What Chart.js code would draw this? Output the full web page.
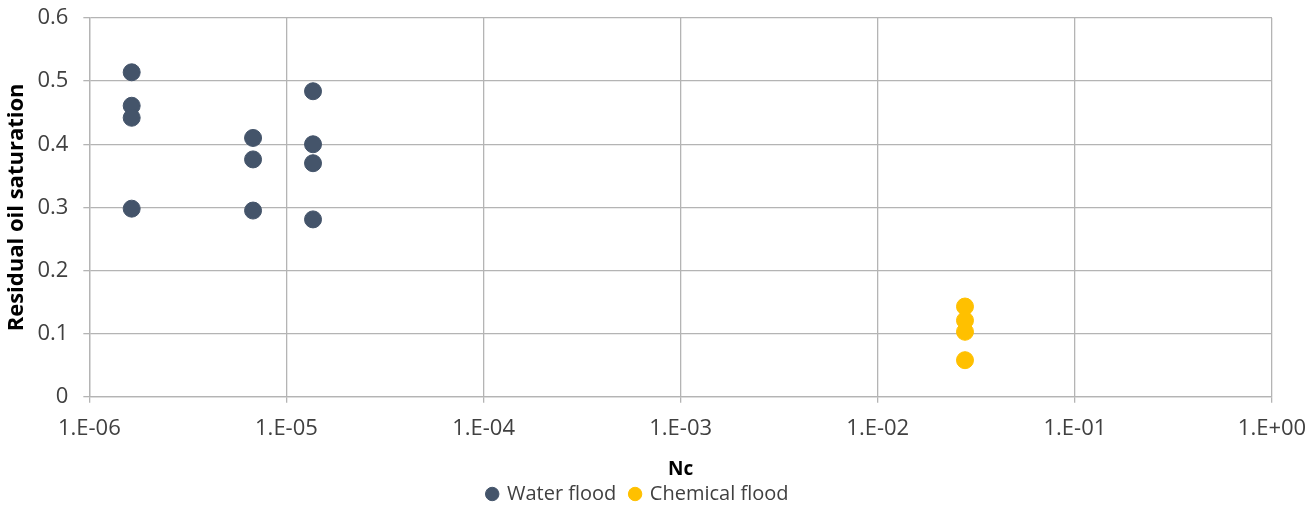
<!DOCTYPE html>
<html>
<head>
<meta charset="utf-8">
<script src="https://cdn.jsdelivr.net/npm/chart.js@4/dist/chart.umd.min.js"></script>
<style>
  html, body { margin: 0; padding: 0; background: #fff; }
  #wrap { width: 1313px; height: 505px; }
</style>
</head>
<body>
<div id="wrap"><canvas id="c" width="1313" height="505"></canvas></div>
<script>
// capillary number vs residual oil saturation
const waterNc = [1.64e-6, 1.64e-6, 1.64e-6, 1.64e-6, 6.77e-6, 6.77e-6, 6.77e-6, 1.364e-5, 1.364e-5, 1.364e-5, 1.364e-5];
const waterSor = [0.514, 0.461, 0.442, 0.298, 0.410, 0.376, 0.295, 0.484, 0.400, 0.370, 0.281];
const chemNc = [2.77e-2, 2.77e-2, 2.77e-2, 2.77e-2];
const chemSor = [0.143, 0.121, 0.103, 0.058];
const xTickValues = [1e-6, 1e-5, 1e-4, 1e-3, 1e-2, 1e-1, 1];
const xTickLabels = ['1.E-06', '1.E-05', '1.E-04', '1.E-03', '1.E-02', '1.E-01', '1.E+00'];

function toPoints(xs, ys) {
  return xs.map((x, i) => ({ x: x, y: ys[i] }));
}

const font = "'Open Sans', 'Liberation Sans', sans-serif";
const gridColor = '#B4B4B4';

new Chart(document.getElementById('c'), {
  type: 'scatter',
  data: {
    datasets: [
      {
        label: 'Water flood',
        data: toPoints(waterNc, waterSor),
        backgroundColor: '#44546A',
        borderColor: '#44546A',
        pointRadius: 8.5,
        pointHoverRadius: 8.5
      },
      {
        label: 'Chemical flood',
        data: toPoints(chemNc, chemSor),
        backgroundColor: '#FFC000',
        borderColor: '#FFC000',
        pointRadius: 8.5,
        pointHoverRadius: 8.5
      }
    ]
  },
  options: {
    responsive: false,
    animation: false,
    layout: { padding: { left: 4, right: 41, top: 18, bottom: -9 } },
    plugins: {
      tooltip: { enabled: false },
      legend: {
        position: 'bottom',
        labels: {
          usePointStyle: true,
          pointStyle: 'circle',
          boxWidth: 9.5,
          boxHeight: 9.5,
          padding: 14,
          color: '#404040',
          font: { family: font, size: 20 }
        }
      }
    },
    scales: {
      x: {
        type: 'logarithmic',
        min: 1e-6,
        max: 1,
        afterBuildTicks: function(scale) {
          scale.ticks = xTickValues.map(v => ({ value: v }));
        },
        afterFit: function(scale) {
          // let layout padding decide the right edge
          scale.paddingRight = 0;
        },
        ticks: {
          autoSkip: false,
          maxRotation: 0,
          padding: 13,
          color: '#404040',
          font: { family: font, size: 22 },
          callback: function(value) {
            const i = xTickValues.indexOf(value);
            return i >= 0 ? xTickLabels[i] : '';
          }
        },
        grid: { color: gridColor, lineWidth: 1.3, tickLength: 6, drawTicks: true },
        border: { color: gridColor, width: 1.3 },
        title: {
          display: true,
          text: 'Nc',
          color: '#000',
          font: { family: font, size: 19, weight: 'bold' },
          padding: { top: 3, bottom: -11 }
        }
      },
      y: {
        min: 0,
        max: 0.6,
        afterFit: function(scale) {
          scale.paddingTop = 0;
          scale.paddingBottom = 0;
        },
        ticks: {
          stepSize: 0.1,
          padding: 15,
          color: '#404040',
          font: { family: font, size: 22 },
          callback: function(value) {
            return value === 0 ? '0' : value.toFixed(1);
          }
        },
        grid: { color: gridColor, lineWidth: 1.3, tickLength: 6 },
        border: { color: gridColor, width: 1.3 },
        title: {
          display: true,
          text: 'Residual oil saturation',
          color: '#000',
          font: { family: font, size: 22, weight: 'bold' },
          padding: { top: 0, bottom: -8 }
        }
      }
    }
  }
});
</script>
</body>
</html>
